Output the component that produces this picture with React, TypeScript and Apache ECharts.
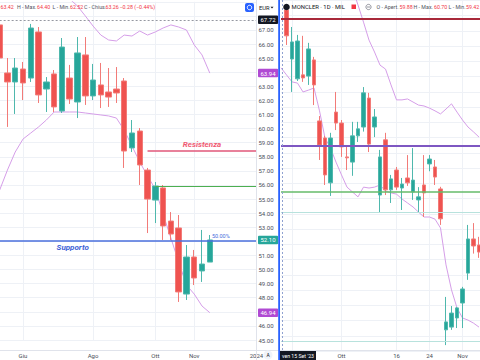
import React, { useEffect, useRef } from 'react';
import * as echarts from 'echarts';

const F = 'Roboto, "Noto Sans", sans-serif';

// ---------- LEFT (weekly) ----------
const leftDates = ['2023-05-15','2023-05-22','2023-05-29','2023-06-05','2023-06-12','2023-06-19','2023-06-26','2023-07-03','2023-07-10','2023-07-17','2023-07-24','2023-07-31','2023-08-07','2023-08-14','2023-08-21','2023-08-28','2023-09-04','2023-09-11','2023-09-18','2023-09-25','2023-10-02','2023-10-09','2023-10-16','2023-10-23','2023-10-30','2023-11-06','2023-11-13','2023-11-20','2023-11-27','2023-12-04','2023-12-11','2023-12-18','2023-12-25','2024-01-01'];
const leftOpen = [67.36, 63.95, 63.31, 64.23, 63.59, 66.86, 62.81, 63.88, 61.25, 63.59, 61.89, 65.23, 62.32, 63.10, 62.60, 62.81, 63.38, 58.63, 59.83, 57.06, 54.93, 55.79, 53.44, 52.95, 48.26, 50.89, 49.90, 50.53];
const leftClose = [65.01, 63.31, 64.30, 63.24, 67.14, 62.39, 63.31, 61.54, 65.79, 62.10, 65.37, 62.32, 63.45, 62.39, 62.24, 62.53, 58.41, 59.69, 57.42, 55.00, 55.93, 53.09, 52.52, 48.41, 50.89, 49.40, 50.39, 52.10];
const leftLow = [64.52, 60.12, 61.04, 62.03, 63.31, 61.82, 61.18, 61.18, 61.11, 61.75, 60.75, 61.68, 62.03, 61.46, 61.54, 61.82, 57.21, 58.34, 56.00, 52.59, 53.30, 52.10, 52.10, 47.70, 47.84, 48.90, 49.12, 50.53];
const leftHigh = [67.71, 65.01, 65.01, 64.73, 67.43, 67.21, 63.66, 64.16, 66.43, 64.52, 66.50, 66.50, 64.59, 64.66, 64.30, 64.37, 63.59, 60.61, 60.04, 57.21, 56.21, 56.00, 54.08, 53.87, 51.74, 51.39, 52.81, 52.45];
const leftUpper = [null, null, null, null, null, null, null, null, 69.70, 69.20, 68.70, 68.00, 67.28, 66.64, 66.29, 66.22, 66.64, 66.57, 66.93, 66.64, 66.86, 67.14, 67.36, 67.21, 67.00, 65.94, 65.23, 63.94];
const leftLower = [55.64, 57.06, 58.34, 59.26, 59.69, 60.12, 60.61, 61.18, 61.18, 61.18, 61.18, 61.11, 61.04, 60.97, 60.90, 60.75, 59.90, 58.77, 57.63, 56.64, 55.71, 53.94, 52.24, 50.53, 48.90, 48.26, 47.41, 46.94];
const leftTickIdx = [3, 12, 20, 25, 33];
const leftTickText = ['Giu', 'Ago', 'Ott', 'Nov', '2024'];
const crosshairPrice = 67.72;
const resistenza = 58.41;
const greenLevel = 55.93;
const supporto = 52.05;
const upperLast = 63.94;
const lowerLast = 46.94;
const lastClose = 52.10;
const pillValues = [crosshairPrice, upperLast, lastClose, lowerLast];

// ---------- RIGHT (daily) ----------
const rightDates = ['2023-09-15','2023-09-18','2023-09-19','2023-09-20','2023-09-21','2023-09-22','2023-09-25','2023-09-26','2023-09-27','2023-09-28','2023-09-29','2023-10-02','2023-10-03','2023-10-04','2023-10-05','2023-10-06','2023-10-09','2023-10-10','2023-10-11','2023-10-12','2023-10-13','2023-10-16','2023-10-17','2023-10-18','2023-10-19','2023-10-20','2023-10-23','2023-10-24','2023-10-25','2023-10-26','2023-10-27','2023-10-30','2023-10-31','2023-11-01','2023-11-02','2023-11-03','2023-11-06','2023-11-07'];
const rightOpen = [59.88, 58.69, 57.08, 56.43, 56.56, 56.52, 57.05, 55.05, 54.49, 53.02, 55.34, 54.98, 53.87, 53.70, 54.56, 54.85, 55.80, 54.85, 52.62, 54.43, 52.79, 53.44, 52.85, 53.18, 52.72, 52.46, 52.95, 53.64, 53.54, 52.82, 48.20, 48.29, 48.59, 49.08, 50.06, 51.18, 50.98];
const rightClose = [59.52, 57.84, 57.64, 57.67, 56.46, 57.41, 56.23, 54.26, 53.28, 54.49, 54.98, 54.20, 53.84, 54.56, 54.79, 55.97, 54.29, 55.18, 53.87, 52.79, 53.15, 52.88, 52.98, 53.02, 53.11, 52.56, 52.69, 53.80, 53.21, 51.84, 48.46, 48.75, 48.92, 49.54, 51.18, 50.95, 50.75];
const rightLow = [59.42, 57.54, 56.00, 56.36, 56.33, 56.23, 55.57, 53.77, 52.95, 52.59, 54.75, 53.87, 53.44, 53.25, 54.36, 54.70, 54.03, 54.52, 52.06, 52.62, 52.36, 52.79, 52.13, 52.92, 52.46, 52.06, 51.90, 53.40, 52.95, 51.64, 47.70, 48.20, 48.26, 48.26, 49.84, 50.70, 50.56];
const rightHigh = [60.70, 58.85, 58.13, 57.87, 57.84, 57.61, 57.15, 55.21, 54.56, 54.66, 56.00, 55.08, 54.20, 55.02, 55.02, 56.16, 55.97, 55.44, 54.10, 54.66, 53.28, 53.54, 53.18, 53.93, 54.16, 52.88, 53.93, 53.93, 53.77, 52.89, 49.28, 48.98, 48.95, 49.61, 51.64, 51.70, 51.25];
const rightUpper = [null, null, null, null, null, null, null, null, null, null, null, null, null, 59.40, 58.85, 58.29, 57.70, 57.31, 56.88, 56.75, 56.23, 55.74, 55.74, 55.77, 55.67, 55.57, 55.54, 55.47, 55.38, 55.28, 55.44, 55.61, 55.34, 55.08, 54.85, 54.69, 54.52];
const rightLower = [56.79, 56.56, 56.33, 56.29, 56.00, 56.06, 56.13, 55.38, 54.49, 54.16, 53.70, 53.28, 52.88, 52.72, 52.56, 52.88, 52.85, 52.88, 52.95, 52.75, 52.69, 52.65, 52.49, 52.36, 52.23, 52.06, 51.90, 51.90, 51.83, 51.54, 50.33, 49.51, 48.92, 48.59, 48.52, 48.42, 48.29];
const rightTickIdx = [11, 21, 27, 33];
const rightTickText = ['Ott', '16', '24', 'Nov'];
const rightGridIdx = [2, 11, 21, 27, 33];
const rightLines = [58.41, 54.23, 52.72, 52.06, 47.84];
const rightLineColors = ['#a8283a', '#7e57c2', '#66bb6a', '#b8e2dd', '#b8e2dd'];
const rightLineWidths = [2, 2, 1.5, 1.2, 1.2];

const UP = '#26a69a';
const DOWN = '#ef5350';
const BAND = '#d59ee8';
const GRIDC = '#eef1f6';
const AXC = '#4a4e59';
const LBL = '#50535e';
const VAL = '#f23645';

function pill(bg: string) {
  return {
    show: true,
    position: 'end',
    distance: 1.5,
    formatter: (p: any) => Number(p.value).toFixed(2),
    backgroundColor: bg,
    color: '#fff',
    fontSize: 6,
    fontFamily: F,
    padding: [1.5, 2.5, 1, 2.5],
    borderRadius: 1,
  };
}

function txt(text: string, x: number, y: number, fill: string, size = 5.3, align = 'left') {
  return {
    type: 'text', x, y, z: 80,
    style: { text, fill, fontSize: size, fontFamily: F, align, verticalAlign: 'middle' },
  };
}

export default function App() {
  const ref = useRef<HTMLDivElement>(null);
  useEffect(() => {
    const chart = echarts.init(ref.current!, null, { renderer: 'svg' });
    const leftCandles = leftOpen.map((o, i) => [o, leftClose[i], leftLow[i], leftHigh[i]]);
    const rightCandles = rightOpen.map((o, i) => [o, rightClose[i], rightLow[i], rightHigh[i]]);
    const noLine = { color: 'rgba(0,0,0,0)', width: 1, type: 'solid' };

    const option: any = {
      animation: false,
      backgroundColor: '#ffffff',
      textStyle: { fontFamily: F },
      grid: [
        { left: -0.35, top: 1.8, width: 256.85, height: 338.2, outerBoundsMode: 'none', containLabel: false },
        { left: 281, top: -14.8, width: 203.5, height: 366, outerBoundsMode: 'none', containLabel: false },
      ],
      xAxis: [
        {
          type: 'category', gridIndex: 0, data: leftDates, boundaryGap: false,
          axisLine: { show: false }, axisTick: { show: false },
          axisLabel: {
            interval: (i: number) => leftTickIdx.includes(i),
            formatter: (_v: string, i: number) => { const k = leftTickIdx.indexOf(i); return k >= 0 ? leftTickText[k] : ''; },
            margin: 12, fontSize: 6, color: AXC, fontFamily: F,
          },
          splitLine: { show: true, interval: (i: number) => leftTickIdx.includes(i), lineStyle: { color: GRIDC, width: 1 } },
        },
        {
          type: 'category', gridIndex: 1, data: rightDates, boundaryGap: false,
          axisLine: { show: false }, axisTick: { show: false },
          axisLabel: {
            interval: (i: number) => rightTickIdx.includes(i),
            formatter: (_v: string, i: number) => { const k = rightTickIdx.indexOf(i); return k >= 0 ? rightTickText[k] : ''; },
            margin: 1, fontSize: 6, color: AXC, fontFamily: F,
          },
          splitLine: { show: true, interval: (i: number) => rightGridIdx.includes(i), lineStyle: { color: GRIDC, width: 1 } },
        },
      ],
      yAxis: [
        {
          type: 'value', gridIndex: 0, position: 'right', min: 45, max: 69, interval: 1,
          axisLine: { show: false }, axisTick: { show: false },
          axisLabel: {
            margin: 2, fontSize: 6, color: AXC, fontFamily: F,
            formatter: (v: number) => (v > 67.5 || pillValues.some((p) => Math.abs(p - v) < 0.6) ? '' : v.toFixed(2)),
          },
          splitLine: { show: true, lineStyle: { color: GRIDC, width: 1 } },
        },
        {
          type: 'value', gridIndex: 1, position: 'right', min: 47.5, max: 59.5, interval: 0.5,
          axisLine: { show: false }, axisTick: { show: false },
          axisLabel: { show: false },
          splitLine: { show: true, lineStyle: { color: GRIDC, width: 1 } },
        },
      ],
      series: [
        {
          type: 'line', xAxisIndex: 0, yAxisIndex: 0, data: leftUpper, symbol: 'none',
          lineStyle: { color: BAND, width: 1 }, silent: true, z: 1,
        },
        {
          type: 'line', xAxisIndex: 0, yAxisIndex: 0, data: leftLower, symbol: 'none',
          lineStyle: { color: BAND, width: 1 }, silent: true, z: 1,
        },
        {
          type: 'candlestick', xAxisIndex: 0, yAxisIndex: 0, data: leftCandles, barWidth: 6,
          itemStyle: { color: UP, color0: DOWN, borderColor: '#4fb8ad', borderColor0: '#f27b78', borderWidth: 1 },
          markLine: {
            silent: true, symbol: ['none', 'none'], label: { show: false },
            data: [
              { yAxis: crosshairPrice, lineStyle: { color: '#9598a1', type: [2, 2], width: 1 }, label: pill('#131722') },
              [
                { coord: [19, resistenza], lineStyle: { color: '#e0577a', width: 1.5, type: 'solid' },
                  label: { show: true, position: 'insideMiddleTop', formatter: 'Resistenza', color: '#ef5a73', fontStyle: 'italic', fontWeight: 'bold', fontSize: 8, fontFamily: F, distance: 3 } },
                { coord: [33, resistenza] },
              ],
              [
                { coord: [20, greenLevel], lineStyle: { color: '#4caf50', width: 1.2, type: 'solid' } },
                { coord: [33, greenLevel] },
              ],
              { yAxis: supporto, lineStyle: { color: '#4a6fdc', width: 1.5, type: 'solid' } },
              { yAxis: upperLast, lineStyle: noLine, label: pill('#b04ad3') },
              { yAxis: lastClose, lineStyle: noLine, label: pill(UP) },
              { yAxis: lowerLast, lineStyle: noLine, label: pill('#b04ad3') },
            ],
          },
          markPoint: {
            silent: true, symbol: 'circle', symbolSize: 0,
            data: [
              { coord: [9, supporto], label: { show: true, position: 'bottom', distance: 3, offset: [3, 0], formatter: 'Supporto', color: '#3f63d6', fontStyle: 'italic', fontWeight: 'bold', fontSize: 8, fontFamily: F } },
              { coord: [27, supporto], label: { show: true, position: 'top', distance: 2, offset: [11, 0], formatter: '50.00%', color: '#4a6fdc', fontSize: 5.5, fontFamily: F } },
            ],
          },
        },
        {
          type: 'line', xAxisIndex: 1, yAxisIndex: 1, data: rightUpper, symbol: 'none',
          lineStyle: { color: BAND, width: 1 }, silent: true, z: 1,
        },
        {
          type: 'line', xAxisIndex: 1, yAxisIndex: 1, data: rightLower, symbol: 'none',
          lineStyle: { color: BAND, width: 1 }, silent: true, z: 1,
        },
        {
          type: 'candlestick', xAxisIndex: 1, yAxisIndex: 1, data: rightCandles, barWidth: 4,
          itemStyle: { color: UP, color0: DOWN, borderColor: '#4fb8ad', borderColor0: '#f27b78', borderWidth: 1 },
          markLine: {
            silent: true, symbol: ['none', 'none'], label: { show: false },
            data: rightLines.map((v, i) => ({ yAxis: v, lineStyle: { color: rightLineColors[i], width: rightLineWidths[i], type: 'solid' } })),
          },
        },
      ],
      graphic: [
        // separators
        { type: 'line', z: 50, shape: { x1: 256.5, y1: 0, x2: 256.5, y2: 360 }, style: { stroke: '#e0e3eb', lineWidth: 1 } },
        { type: 'line', z: 50, shape: { x1: 0, y1: 350.5, x2: 480, y2: 350.5 }, style: { stroke: '#e0e3eb', lineWidth: 1 } },
        // right crosshair
        { type: 'line', z: 50, shape: { x1: 282.5, y1: 0, x2: 282.5, y2: 351 }, style: { stroke: '#8fa1d0', lineWidth: 1, lineDash: [2, 2] } },
        // active chart border
        { type: 'rect', z: 60, shape: { x: 278.2, y: 0, width: 1.8, height: 360 }, style: { fill: '#2962ff' } },
        // crosshair date box
        { type: 'rect', z: 70, shape: { x: 280, y: 351, width: 36, height: 9 }, style: { fill: '#131722' } },
        txt("ven 15 Set '23", 298, 355.7, '#ffffff', 5.2, 'center'),
        // auto button
        { type: 'circle', z: 50, shape: { cx: 268, cy: 355, r: 4.5 }, style: { fill: '#f0f3fa' } },
        txt('A', 268, 355.3, '#131722', 5, 'center'),
        // currency
        txt('EUR', 259, 7.5, '#131722', 5.8),
        { type: 'polygon', z: 80, shape: { points: [[270.5, 6.8], [273.5, 6.8], [272, 8.6]] }, style: { fill: '#131722' } },
        // blue square button
        { type: 'rect', z: 80, shape: { x: 245, y: 3, width: 9, height: 9, r: 2 }, style: { fill: '#2962ff' } },
        { type: 'circle', z: 81, shape: { cx: 249.5, cy: 7.5, r: 2.2 }, style: { fill: 'none', stroke: '#ffffff', lineWidth: 1 } },
        // left legend
        txt('63.42', 0.5, 7, VAL),
        txt('H - Max.', 17, 7, LBL),
        txt('64.40', 37, 7, VAL),
        txt('L - Min.', 52.5, 7, LBL),
        txt('62.52', 70, 7, VAL),
        txt('C - Chius.', 84, 7, LBL),
        txt('63.26', 105.5, 7, VAL),
        txt('\u22120.28 (\u22120.44%)', 119.5, 7, VAL),
        // right legend
        { type: 'circle', z: 80, shape: { cx: 286.5, cy: 7, r: 3.3 }, style: { fill: '#131722' } },
        txt('MONCLER \u00b7 1D \u00b7 MIL', 291.5, 7, '#131722', 5.9),
        { type: 'rect', z: 80, shape: { x: 351.5, y: 4.5, width: 4.5, height: 4.5 }, style: { fill: VAL } },
        { type: 'circle', z: 80, shape: { cx: 368.5, cy: 7, r: 2.6 }, style: { fill: 'none', stroke: '#787b86', lineWidth: 0.8 } },
        { type: 'line', z: 80, shape: { x1: 367, y1: 7, x2: 370, y2: 7 }, style: { stroke: '#787b86', lineWidth: 0.8 } },
        txt('O - Apert.', 376.5, 7, LBL),
        txt('59.88', 399.5, 7, VAL),
        txt('H - Max.', 413.5, 7, LBL),
        txt('60.70', 434, 7, VAL),
        txt('L - Min.', 448.5, 7, LBL),
        txt('59.42', 466, 7, VAL),
      ],
    };
    chart.setOption(option);
    return () => chart.dispose();
  }, []);
  return (
    <div style={{ position: 'fixed', left: 0, top: 0, width: 480, height: 360, overflow: 'hidden', background: '#fff' }}>
      <div ref={ref} style={{ width: 480, height: 360 }} />
    </div>
  );
}
